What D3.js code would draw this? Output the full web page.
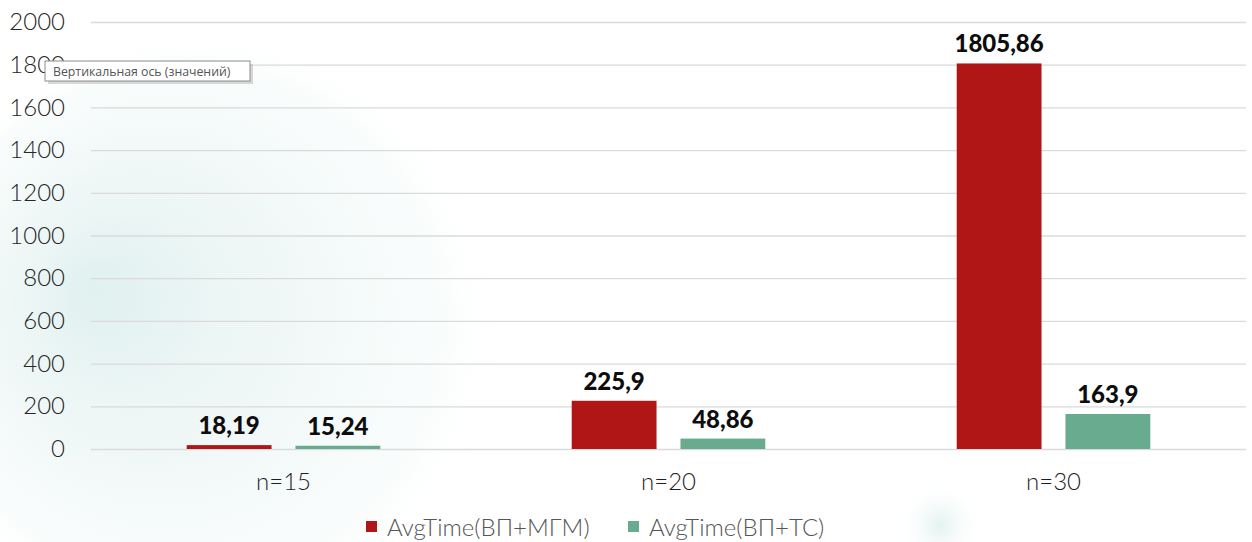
<!DOCTYPE html>
<html>
<head>
<meta charset="utf-8">
<script src="https://cdn.jsdelivr.net/npm/d3@7"></script>
<style>
  html, body { margin: 0; padding: 0; background: #ffffff; }
  svg { display: block; }
</style>
</head>
<body>
<div id="chart"></div>
<script>
// Average run time per problem size, two solver configurations
const categories = ["n=15", "n=20", "n=30"];
const seriesNames = ["AvgTime(ВП+МГМ)", "AvgTime(ВП+ТС)"];
const mgmValues = [18.19, 225.9, 1805.86];
const tsValues = [15.24, 48.86, 163.9];
const yTicks = [0, 200, 400, 600, 800, 1000, 1200, 1400, 1600, 1800, 2000];
const seriesColors = ["#b01615", "#69ab8f"];

const W = 1252, H = 542;
const svg = d3.select("#chart").append("svg").attr("width", W).attr("height", H);
const defs = svg.append("defs");

// soft teal background glows
const g1 = defs.append("radialGradient").attr("id", "glowLeft")
  .attr("gradientUnits", "userSpaceOnUse")
  .attr("cx", 200).attr("cy", 330).attr("r", 300)
  .attr("fx", 90).attr("fy", 290);
g1.append("stop").attr("offset", "0").attr("stop-color", "#dcefed").attr("stop-opacity", 0.9);
g1.append("stop").attr("offset", "0.4").attr("stop-color", "#e6f3f2").attr("stop-opacity", 0.7);
g1.append("stop").attr("offset", "0.85").attr("stop-color", "#f2f9f8").attr("stop-opacity", 0.45);
g1.append("stop").attr("offset", "1").attr("stop-color", "#ffffff").attr("stop-opacity", 0);

const g2 = defs.append("radialGradient").attr("id", "glowSmall")
  .attr("gradientUnits", "userSpaceOnUse")
  .attr("cx", 940).attr("cy", 525).attr("r", 45);
g2.append("stop").attr("offset", "0").attr("stop-color", "#dcefed").attr("stop-opacity", 0.8);
g2.append("stop").attr("offset", "1").attr("stop-color", "#ffffff").attr("stop-opacity", 0);

svg.append("rect").attr("width", W).attr("height", H).attr("fill", "#ffffff");
svg.append("rect").attr("width", W).attr("height", H).attr("fill", "url(#glowLeft)");
svg.append("rect").attr("width", W).attr("height", H).attr("fill", "url(#glowSmall)");

const plot = { left: 91, right: 1246, top: 22, bottom: 449 };

const x = d3.scaleBand().domain(categories).range([plot.left, plot.right])
  .paddingInner(0).paddingOuter(0);
const xInner = d3.scaleBand().domain(d3.range(seriesNames.length))
  .range([0, x.bandwidth()]).paddingInner(0.22).paddingOuter(0.88);
const y = d3.scaleLinear().domain([0, 2000]).range([plot.bottom, plot.top]);

// gridlines
const yAxis = d3.axisLeft(y).tickValues(yTicks).tickSize(-(plot.right - plot.left))
  .tickFormat(d3.format("d")).tickPadding(26);
const yg = svg.append("g").attr("transform", `translate(${plot.left},0)`).call(yAxis);
yg.select(".domain").remove();
yg.selectAll(".tick line").attr("stroke", "#dadada").attr("stroke-width", 1.3);
yg.selectAll(".tick text")
  .attr("fill", "#262626")
  .style("font-family", "Lato, 'Open Sans', sans-serif")
  .style("font-weight", 300)
  .style("font-size", "24px");

// category axis labels
const xAxis = d3.axisBottom(x).tickSize(0).tickPadding(24);
const xg = svg.append("g").attr("transform", `translate(0,${plot.bottom})`).call(xAxis);
xg.select(".domain").remove();
xg.selectAll(".tick text")
  .attr("fill", "#1e1e1e")
  .style("font-family", "Lato, 'Open Sans', sans-serif")
  .style("font-weight", 300)
  .style("font-size", "24px");

// bars + value labels
const series = [mgmValues, tsValues];
const fmt = v => String(v).replace(".", ",");
series.forEach((vals, si) => {
  const gs = svg.append("g");
  gs.selectAll("rect").data(vals).join("rect")
    .attr("x", (d, i) => x(categories[i]) + xInner(si))
    .attr("width", xInner.bandwidth())
    .attr("y", d => y(d))
    .attr("height", d => y(0) - y(d))
    .attr("fill", seriesColors[si]);
  gs.selectAll("text").data(vals).join("text")
    .attr("x", (d, i) => x(categories[i]) + xInner(si) + xInner.bandwidth() / 2)
    .attr("y", d => y(d) - 11)
    .attr("text-anchor", "middle")
    .attr("fill", "#0d0d0d")
    .style("font-family", "Lato, 'Open Sans', sans-serif")
    .style("font-weight", 900)
    .style("font-size", "24px")
    .text(d => fmt(d));
});

// legend
const legendItems = [
  { name: seriesNames[0], color: seriesColors[0], x: 366 },
  { name: seriesNames[1], color: seriesColors[1], x: 628 }
];
const lg = svg.append("g");
legendItems.forEach(it => {
  lg.append("rect").attr("x", it.x).attr("y", 521).attr("width", 11).attr("height", 11)
    .attr("fill", it.color);
  lg.append("text").attr("x", it.x + 21).attr("y", 536)
    .attr("fill", "#555555")
    .style("font-family", "Lato, 'Open Sans', sans-serif")
    .style("font-weight", 300)
    .style("font-size", "24px")
    .text(it.name);
});

// hover tooltip over the value axis
const tip = svg.append("g").attr("transform", "translate(45,61)");
tip.append("rect").attr("x", 3).attr("y", 3).attr("width", 205).attr("height", 20)
  .attr("fill", "#b8b8b8").attr("opacity", 0.55);
tip.append("rect").attr("x", 0).attr("y", 0).attr("width", 205).attr("height", 20)
  .attr("fill", "#ffffff").attr("stroke", "#8c8c8c").attr("stroke-width", 1);
tip.append("text").attr("x", 8).attr("y", 14.5)
  .attr("fill", "#555555")
  .style("font-family", "'Open Sans', 'Noto Sans', sans-serif")
  .style("font-size", "12.3px")
  .text("Вертикальная ось (значений)");
</script>
</body>
</html>
